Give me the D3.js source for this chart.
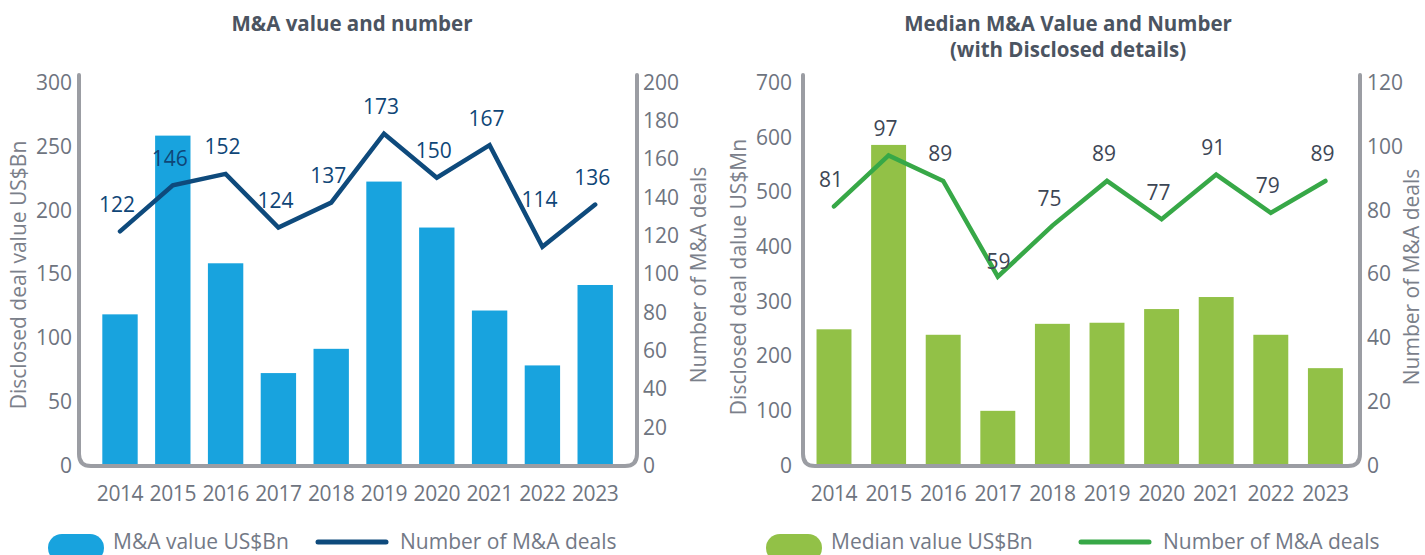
<!DOCTYPE html>
<html>
<head>
<meta charset="utf-8">
<script src="https://cdn.jsdelivr.net/npm/d3@7"></script>
<style>
html,body{margin:0;padding:0;background:#fff;}
svg{display:block;font-family:"Open Sans",sans-serif;}
</style>
</head>
<body>
<svg id="chart" width="1425" height="555"></svg>
<script>
const years = ["2014","2015","2016","2017","2018","2019","2020","2021","2022","2023"];
const maValue = [118, 258, 158, 72, 91, 222, 186, 121, 78, 141];
const maDeals = [122, 146, 152, 124, 137, 173, 150, 167, 114, 136];
const medianValue = [248, 585, 238, 99, 258, 260, 285, 307, 238, 177];
const medianDeals = [81, 97, 89, 59, 75, 89, 77, 91, 79, 89];
const leftTicksA = [0, 50, 100, 150, 200, 250, 300];
const rightTicksA = [0, 20, 40, 60, 80, 100, 120, 140, 160, 180, 200];
const leftTicksB = [0, 100, 200, 300, 400, 500, 600, 700];
const rightTicksB = [0, 20, 40, 60, 80, 100, 120];

const svg = d3.select("#chart");
const frameColor = "#9b9da3";
const tickColor = "#6e7480";

function drawPanel(cfg) {
  const g = svg.append("g");
  const x = d3.scaleBand().domain(years).range([cfg.x0, cfg.x1]).paddingInner(cfg.pad).paddingOuter(cfg.pad / 2);
  const yL = d3.scaleLinear().domain([0, cfg.maxL]).range([cfg.yBase, cfg.yTop]);
  const yR = d3.scaleLinear().domain([0, cfg.maxR]).range([cfg.yBase, cfg.yTop]);
  const cx = i => x(years[i]) + x.bandwidth() / 2;

  g.selectAll("rect.bar").data(cfg.bars).join("rect")
    .attr("class", "bar")
    .attr("x", (d, i) => x(years[i]))
    .attr("width", x.bandwidth())
    .attr("y", d => yL(d))
    .attr("height", d => yL(0) - yL(d))
    .attr("fill", cfg.barColor);

  // frame (U shape with rounded bottom corners)
  const r = 12, fb = cfg.yBase + 1;
  const p = d3.path();
  p.moveTo(cfg.axL, cfg.frameTop);
  p.lineTo(cfg.axL, fb - r);
  p.quadraticCurveTo(cfg.axL, fb, cfg.axL + r, fb);
  p.lineTo(cfg.axR - r, fb);
  p.quadraticCurveTo(cfg.axR, fb, cfg.axR, fb - r);
  p.lineTo(cfg.axR, cfg.frameTop);
  g.append("path").attr("d", p.toString()).attr("fill", "none")
    .attr("stroke", frameColor).attr("stroke-width", 4).attr("stroke-linecap", "round");

  const axL = d3.axisLeft(yL).tickValues(cfg.ticksL).tickSize(0).tickPadding(0);
  const gL = g.append("g").attr("transform", `translate(${cfg.tickLx},0)`).call(axL);
  const axR = d3.axisRight(yR).tickValues(cfg.ticksR).tickSize(0).tickPadding(0);
  const gR = g.append("g").attr("transform", `translate(${cfg.tickRx},0)`).call(axR);
  const axB = d3.axisBottom(x).tickSize(0).tickPadding(0);
  const gB = g.append("g").attr("transform", `translate(0,${cfg.yearY})`).call(axB);
  [gL, gR, gB].forEach(a => {
    a.select(".domain").remove();
    a.selectAll("text").attr("fill", tickColor).attr("font-size", 21)
      .attr("font-family", "'Open Sans', sans-serif");
  });
  gB.selectAll("text").attr("dy", "0.35em").attr("letter-spacing", "-0.4px");
  gL.selectAll("text").attr("dy", "0.35em");
  gR.selectAll("text").attr("dy", "0.35em");

  const pts = cfg.line.map((d, i) => [cx(i), yR(d)]);
  g.append("path").datum(pts).attr("d", d3.line()).attr("fill", "none")
    .attr("stroke", cfg.lineColor).attr("stroke-width", 4.5)
    .attr("stroke-linejoin", "miter").attr("stroke-linecap", "round");

  // label placement: above the point, avoiding the line
  function lineYAt(xx) {
    for (let k = 0; k < pts.length - 1; k++) {
      const [x1, y1] = pts[k], [x2, y2] = pts[k + 1];
      if (xx >= x1 && xx <= x2) return y1 + (xx - x1) / (x2 - x1) * (y2 - y1);
    }
    return null;
  }
  function collides(lx, ly, hw, hh) {
    for (let xx = lx - hw; xx <= lx + hw; xx += 1) {
      const yy = lineYAt(xx);
      if (yy !== null && yy + 2.5 >= ly - hh && yy - 2.5 <= ly + hh) return true;
    }
    return false;
  }
  const labels = cfg.line.map((d, i) => {
    const [px, py] = pts[i];
    const w = String(d).length * 12;
    let lx = px - 3, ly = py - 27;
    const hw = 12;
    if (collides(lx, ly, hw, 7.5)) {
      const isMin = i > 0 && i < pts.length - 1 && pts[i - 1][1] < py && pts[i + 1][1] < py;
      if (cfg.avoid === "inside" && isMin) {
        const [ax, ay] = pts[i - 1], [bx, by] = pts[i + 1];
        for (let yy = py - 4; yy > py - 60; yy -= 0.5) {
          const xl = ax + (yy - ay) / (py - ay) * (px - ax);
          const xr = px + (py - yy) / (py - by) * (bx - px);
          if (xr - xl >= w) { ly = yy; lx = (xl + xr) / 2 - 3; break; }
        }
      } else {
        let m = Infinity;
        for (let xx = lx - hw; xx <= lx + hw; xx += 1) {
          const yy = lineYAt(xx);
          if (yy !== null) m = Math.min(m, yy);
        }
        ly = m - 18;
      }
    }
    return {d, lx, ly};
  });
  g.selectAll("text.lab").data(labels).join("text")
    .attr("class", "lab")
    .attr("x", l => l.lx)
    .attr("y", l => l.ly)
    .attr("dy", "0.35em")
    .attr("text-anchor", "middle")
    .attr("font-size", 21)
    .attr("fill", cfg.labColor)
    .text(l => l.d);

  g.append("text").attr("transform", `translate(${cfg.titleLx},${cfg.titleY}) rotate(-90)`)
    .attr("text-anchor", "middle").attr("dy", "0.35em").attr("font-size", 21).attr("fill", "#7b808a")
    .text(cfg.titleL);
  g.append("text").attr("transform", `translate(${cfg.titleRx},${cfg.titleY}) rotate(-90)`)
    .attr("text-anchor", "middle").attr("dy", "0.35em").attr("font-size", 21).attr("fill", "#7b808a")
    .text(cfg.titleR);

  cfg.title.forEach((t, i) => {
    g.append("text").attr("x", cfg.titleX).attr("y", 31 + i * 26)
      .attr("text-anchor", "middle").attr("font-size", 20.5).attr("font-weight", "bold")
      .attr("fill", "#4b5461").text(t);
  });

  const lg = g.append("g");
  lg.append("rect").attr("x", cfg.leg.pill).attr("y", 534).attr("width", 56).attr("height", 28)
    .attr("rx", 14).attr("fill", cfg.barColor);
  lg.append("text").attr("x", cfg.leg.pill + 65).attr("y", 549).attr("font-size", 21)
    .attr("fill", "#737986").text(cfg.leg.t1);
  lg.append("line").attr("x1", cfg.leg.line).attr("x2", cfg.leg.line + 68).attr("y1", 542).attr("y2", 542)
    .attr("stroke", cfg.lineColor).attr("stroke-width", 5).attr("stroke-linecap", "round");
  lg.append("text").attr("x", cfg.leg.line + 82).attr("y", 549).attr("font-size", 21)
    .attr("fill", "#737986").text(cfg.leg.t2);
}

drawPanel({
  x0: 93.6, x1: 621.6, pad: 0.33,
  yBase: 465, yTop: 82, frameTop: 75,
  maxL: 300, maxR: 200,
  axL: 79, axR: 637,
  tickLx: 72, tickRx: 643, yearY: 494,
  ticksL: leftTicksA, ticksR: rightTicksA,
  bars: maValue, line: maDeals,
  barColor: "#18a3de", lineColor: "#0e4a7c", labColor: "#0f4677",
  avoid: "up",
  titleLx: 19, titleRx: 699, titleY: 275,
  titleL: "Disclosed deal value US$Bn", titleR: "Number of M&A deals",
  title: ["M&A value and number"], titleX: 352,
  leg: {pill: 48, line: 318, t1: "M&A value US$Bn", t2: "Number of M&A deals"}
});

drawPanel({
  x0: 806.7, x1: 1352.7, pad: 0.36,
  yBase: 465, yTop: 82, frameTop: 75,
  maxL: 700, maxR: 120,
  axL: 803, axR: 1360,
  tickLx: 792, tickRx: 1367, yearY: 494,
  ticksL: leftTicksB, ticksR: rightTicksB,
  bars: medianValue, line: medianDeals,
  barColor: "#92c147", lineColor: "#37a847", labColor: "#3d4655",
  avoid: "inside",
  titleLx: 739, titleRx: 1412, titleY: 277,
  titleL: "Disclosed deal dalue US$Mn", titleR: "Number of M&A deals",
  title: ["Median M&A Value and Number", "(with Disclosed details)"], titleX: 1068,
  leg: {pill: 766, line: 1081, t1: "Median value US$Bn", t2: "Number of M&A deals"}
});
</script>
</body>
</html>
